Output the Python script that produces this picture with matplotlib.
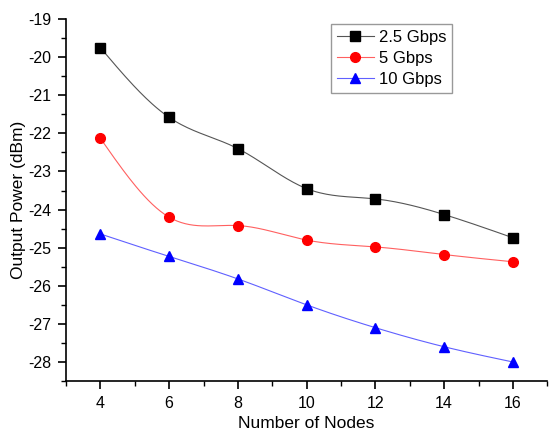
import numpy as np
from matplotlib import pyplot as plt
from matplotlib.ticker import MultipleLocator

plt.rcParams['font.family'] = ['Liberation Sans', 'DejaVu Sans']
plt.rcParams['axes.unicode_minus'] = False

nodes = [4, 6, 8, 10, 12, 14, 16]
p25 = [-19.75, -21.58, -22.40, -23.45, -23.72, -24.13, -24.74]
p5 = [-22.13, -24.20, -24.42, -24.80, -24.98, -25.18, -25.37]
p10 = [-24.64, -25.23, -25.82, -26.50, -27.10, -27.60, -28.00]


def spline(x, y, n=200):
    # natural cubic spline, just for the smooth connecting line
    x = np.asarray(x, float)
    y = np.asarray(y, float)
    k = len(x)
    h = np.diff(x)
    A = np.zeros((k, k))
    r = np.zeros(k)
    A[0, 0] = A[-1, -1] = 1
    for i in range(1, k - 1):
        A[i, i - 1] = h[i - 1]
        A[i, i] = 2 * (h[i - 1] + h[i])
        A[i, i + 1] = h[i]
        r[i] = 6 * ((y[i + 1] - y[i]) / h[i] - (y[i] - y[i - 1]) / h[i - 1])
    m = np.linalg.solve(A, r)
    xs = np.linspace(x[0], x[-1], n)
    idx = np.clip(np.searchsorted(x, xs) - 1, 0, k - 2)
    t = xs - x[idx]
    hi = h[idx]
    a = (m[idx + 1] - m[idx]) / (6 * hi)
    b = m[idx] / 2
    c = (y[idx + 1] - y[idx]) / hi - hi * (2 * m[idx] + m[idx + 1]) / 6
    ys = y[idx] + c * t + b * t ** 2 + a * t ** 3
    return xs, ys


fig = plt.figure(figsize=(5.5, 4.33), dpi=100)
ax = fig.add_axes([0.12, 0.12, 0.875, 0.836])

series = [(p25, 'black', '#555555', 's', '2.5 Gbps'),
          (p5, 'red', '#ff6060', 'o', '5 Gbps'),
          (p10, 'blue', '#6060ff', '^', '10 Gbps')]
for y, mc, lc, mk, lab in series:
    xs, ys = spline(nodes, y)
    ax.plot(xs, ys, color=lc, lw=0.8)
    ax.plot(nodes, y, linestyle='none', marker=mk, color=mc, ms=7)
    ax.plot([], [], color=lc, lw=0.8, marker=mk, mfc=mc, mec=mc, ms=7, label=lab)

ax.set_xlim(3, 17)
ax.set_ylim(-28.5, -19)
ax.xaxis.set_major_locator(MultipleLocator(2))
ax.xaxis.set_minor_locator(MultipleLocator(1))
ax.yaxis.set_major_locator(MultipleLocator(1))
ax.yaxis.set_minor_locator(MultipleLocator(0.5))
ax.spines['top'].set_visible(False)
ax.spines['right'].set_visible(False)
ax.spines['left'].set_linewidth(1.2)
ax.spines['bottom'].set_linewidth(1.2)
ax.tick_params(which='major', length=5.5, width=1.2, labelsize=11.5, pad=5)
ax.tick_params(which='minor', length=3.5, width=1.0)
ax.set_xlabel('Number of Nodes', fontsize=12.5, labelpad=4)
ax.set_ylabel('Output Power (dBm)', fontsize=12.5, labelpad=2)
ax.legend(loc='upper right', bbox_to_anchor=(0.802, 0.985), borderaxespad=0,
          fontsize=12, fancybox=False, edgecolor='gray', handlelength=2.2,
          borderpad=0.35, labelspacing=0.35, handletextpad=0.3)

fig.savefig('out.png', dpi=100)
